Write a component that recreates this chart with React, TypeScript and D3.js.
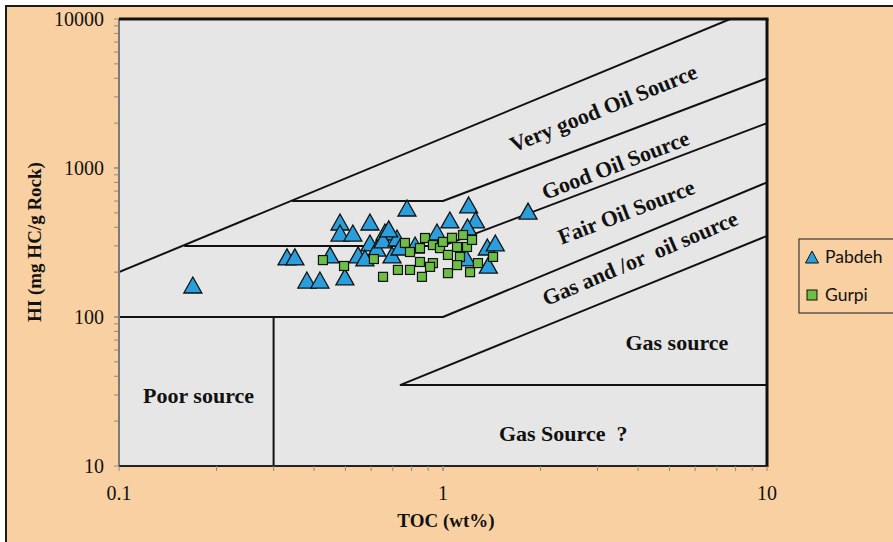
import React from "react";
import * as d3 from "d3";

// Pabdeh formation samples: TOC (wt%) and HI (mg HC/g Rock)
const pabdehTOC = [0.169, 0.33, 0.349, 0.38, 0.417, 0.448, 0.481, 0.481, 0.527, 0.498, 0.547, 0.595, 0.595, 0.625, 0.662, 0.653, 0.696, 0.721, 0.774, 0.737, 0.958, 1.05, 1.2, 1.26, 1.19, 1.18, 1.37, 1.45, 1.38, 1.83, 0.82, 0.574, 0.68];
const pabdehHI = [164, 253, 253, 177, 177, 261, 434, 366, 366, 186, 261, 434, 314, 290, 372, 329, 261, 339, 539, 295, 372, 448, 565, 448, 402, 249, 295, 314, 223, 514, 304, 249, 390];

// Gurpi formation samples
const gurpiTOC = [0.426, 0.495, 0.612, 0.653, 0.726, 0.763, 0.791, 0.88, 0.849, 0.931, 0.979, 1.0, 1.036, 1.105, 1.153, 1.186, 1.229, 1.128, 1.105, 0.931, 0.849, 0.791, 0.861, 0.912, 1.036, 1.212, 1.427, 1.066, 1.282];
const gurpiHI = [241, 220, 245, 186, 207, 314, 273, 339, 290, 304, 290, 319, 261, 295, 355, 295, 329, 253, 223, 230, 234, 207, 186, 217, 197, 200, 253, 340, 230];

// Source-rock classification boundaries, as [TOC, HI] vertices
const veryGoodBoundary: [number, number][] = [[0.1, 200], [7.7, 10000]];
const goodBoundary: [number, number][] = [[0.342, 600], [1.0, 600], [10, 4000]];
const fairBoundary: [number, number][] = [[0.159, 300], [1.0, 300], [10, 2000]];
const gasOilBoundary: [number, number][] = [[0.1, 100], [1.0, 100], [10, 800]];
const gasBoundary: [number, number][] = [[10, 35], [0.74, 35], [10, 350]];
const poorBoundary: [number, number][] = [[0.3, 10], [0.3, 100]];
const boundaries = [veryGoodBoundary, goodBoundary, fairBoundary, gasOilBoundary, gasBoundary, poorBoundary];

// Zone labels: text, anchor [TOC, HI], rotation
const zoneNames = ["Very good Oil Source", "Good Oil Source", "Fair Oil Source", "Gas and /or  oil source", "Gas source", "Gas Source  ?", "Poor source"];
const zoneAnchors: [number, number][] = [[3.19, 2268], [3.47, 940], [3.75, 455], [4.14, 223], [5.27, 60], [2.35, 14.7], [0.176, 26.5]];
const zoneAngles = [-22, -21, -21, -23, 0, 0, 0];

const xTickValues = [0.1, 1, 10];
const xTickLabels = ["0.1", "1", "10"];
const yTickValues = [10, 100, 1000, 10000];
const yTickLabels = ["10", "100", "1000", "10000"];
const seriesNames = ["Pabdeh", "Gurpi"];

const W = 893;
const H = 542;
const plot = { left: 119, right: 767, top: 19, bottom: 466 };
const PEACH = "#F9D0A1";
const BLUE = "#2A9FDC";
const GREEN = "#6DBE45";
const serif = "'Liberation Serif', 'Times New Roman', serif";

const x = d3.scaleLog().domain([0.1, 10]).range([plot.left, plot.right]);
const y = d3.scaleLog().domain([10, 10000]).range([plot.bottom, plot.top]);

const lineGen = d3.line<[number, number]>().x((d) => x(d[0])).y((d) => y(d[1]));

function minorTicks(lo: number, hi: number): number[] {
  const out: number[] = [];
  for (let dec = lo; dec < hi; dec *= 10) {
    for (let k = 1; k <= 10; k++) out.push(dec * k);
  }
  return out;
}

const triPath = (cx: number, cy: number, w: number, h: number) =>
  `M${cx},${cy - h / 2}L${cx + w / 2},${cy + h / 2}L${cx - w / 2},${cy + h / 2}Z`;

export default function App() {
  const xMinor = minorTicks(0.1, 10);
  const yMinor = minorTicks(10, 10000);
  return (
    <svg width={W} height={H} style={{ position: "absolute", left: 0, top: 0, display: "block" }}>
      <defs>
        <clipPath id="plotClip">
          <rect x={plot.left} y={plot.top} width={plot.right - plot.left} height={plot.bottom - plot.top} />
        </clipPath>
      </defs>
      <rect x={0} y={0} width={W} height={H} fill="#ffffff" />
      <rect x={6} y={6} width={W + 10} height={H + 10} fill={PEACH} stroke="#1a1a1a" strokeWidth={2} />

      {/* plot area */}
      <rect x={plot.left} y={plot.top} width={plot.right - plot.left} height={plot.bottom - plot.top} fill="#E6E6E6" />

      {/* classification boundaries */}
      <g clipPath="url(#plotClip)">
        {boundaries.map((b, i) => (
          <path key={i} d={lineGen(b) || ""} fill="none" stroke="#111" strokeWidth={2} strokeLinejoin="round" />
        ))}
      </g>

      {/* zone labels */}
      {zoneNames.map((name, i) => {
        const px = x(zoneAnchors[i][0]);
        const py = y(zoneAnchors[i][1]);
        return (
          <text
            key={name}
            x={px}
            y={py}
            transform={`rotate(${zoneAngles[i]},${px},${py})`}
            textAnchor="middle"
            fontFamily={serif}
            fontWeight="bold"
            fontSize={22}
            fill="#111"
            style={{ whiteSpace: "pre" }}
          >
            {name}
          </text>
        );
      })}

      {/* Pabdeh triangles */}
      {pabdehTOC.map((t, i) => (
        <path key={"p" + i} d={triPath(x(t), y(pabdehHI[i]), 18, 16)} fill={BLUE} stroke="#111" strokeWidth={1.3} strokeLinejoin="miter" />
      ))}

      {/* Gurpi squares */}
      {gurpiTOC.map((t, i) => (
        <rect key={"g" + i} x={x(t) - 4.5} y={y(gurpiHI[i]) - 4.5} width={9} height={9} fill={GREEN} stroke="#111" strokeWidth={1.2} />
      ))}

      {/* plot frame */}
      <line x1={plot.left} x2={plot.left} y1={plot.top} y2={plot.bottom} stroke="#7a7a7a" strokeWidth={2} />
      <line x1={plot.left} x2={plot.right} y1={plot.bottom} y2={plot.bottom} stroke="#222" strokeWidth={2} />
      <line x1={plot.left} x2={plot.right + 1.5} y1={plot.top} y2={plot.top} stroke="#111" strokeWidth={3} />
      <line x1={plot.right} x2={plot.right} y1={plot.top} y2={plot.bottom + 1} stroke="#111" strokeWidth={3} />

      {/* y axis ticks */}
      {yMinor.map((v, i) => (
        <line key={"ym" + i} x1={plot.left - 5} x2={plot.left} y1={y(v)} y2={y(v)} stroke="#8a8a8a" strokeWidth={1} />
      ))}
      {yTickValues.map((v, i) => (
        <text key={"yl" + i} x={104} y={y(v)} dy="0.35em" textAnchor="end" fontFamily={serif} fontSize={20} fill="#111">
          {yTickLabels[i]}
        </text>
      ))}

      {/* x axis ticks */}
      {xMinor.map((v, i) => (
        <line key={"xm" + i} x1={x(v)} x2={x(v)} y1={plot.bottom} y2={plot.bottom + 5} stroke="#8a8a8a" strokeWidth={1} />
      ))}
      {xTickValues.map((v, i) => (
        <text key={"xl" + i} x={x(v)} y={500} textAnchor="middle" fontFamily={serif} fontSize={20} fill="#111">
          {xTickLabels[i]}
        </text>
      ))}

      {/* axis titles */}
      <text x={(plot.left + plot.right) / 2 + 3} y={527} textAnchor="middle" fontFamily={serif} fontWeight="bold" fontSize={19} fill="#111">
        TOC (wt%)
      </text>
      <text
        transform="translate(41,242) rotate(-90)"
        textAnchor="middle"
        fontFamily={serif}
        fontWeight="bold"
        fontSize={19}
        fill="#111"
      >
        HI (mg HC/g Rock)
      </text>

      {/* legend */}
      <rect x={799} y={239} width={110} height={74} fill={PEACH} stroke="#3a3a3a" strokeWidth={1.2} />
      <path d={triPath(812, 257, 13, 12)} fill={BLUE} stroke="#111" strokeWidth={1} />
      <text x={825} y={263} fontFamily="Lato, 'Open Sans', sans-serif" fontSize={17.5} fill="#111">
        {seriesNames[0]}
      </text>
      <rect x={807} y={290} width={10} height={10} fill={GREEN} stroke="#111" strokeWidth={1} />
      <text x={825} y={301} fontFamily="Lato, 'Open Sans', sans-serif" fontSize={17.5} fill="#111">
        {seriesNames[1]}
      </text>
    </svg>
  );
}
